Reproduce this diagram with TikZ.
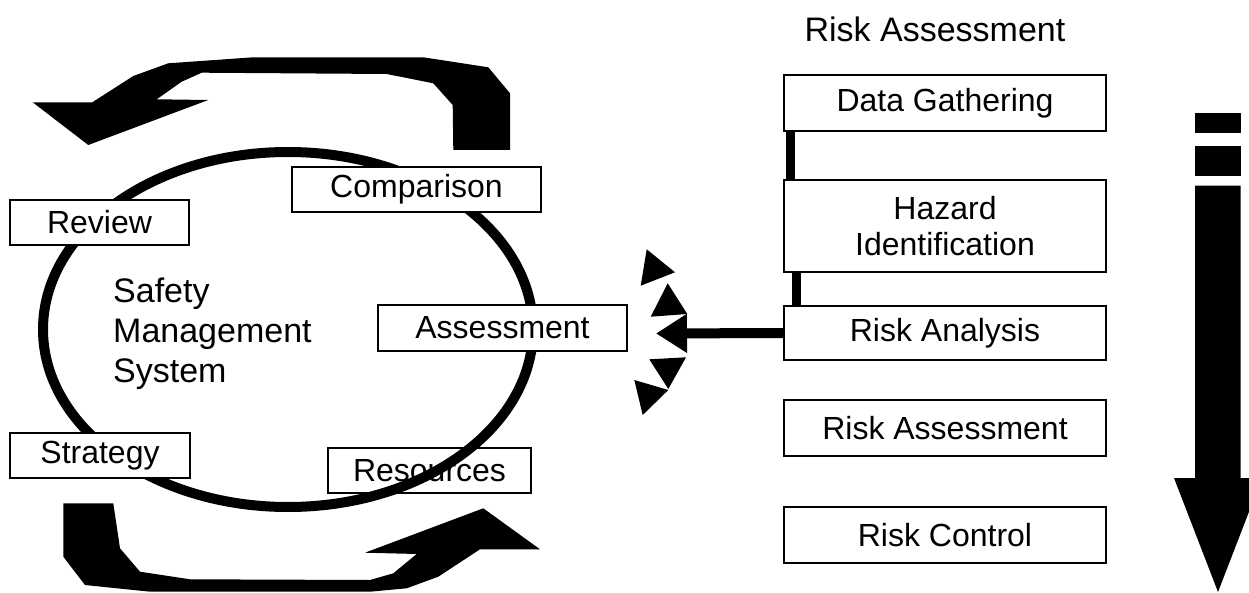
\documentclass[tikz,border=0pt]{standalone}
\usepackage{fontspec}
\setmainfont{Liberation Sans}
\usetikzlibrary{arrows.meta}
\tikzset{
  box/.style={draw, line width=2pt, fill=white, inner sep=0pt, align=center,
    font=\fontsize{32}{36}\selectfont},
  bar/.style={line width=9pt},
  blk/.style={fill=black, draw=none},
}
\begin{document}
\begin{tikzpicture}[x=1pt,y=-1pt]
\useasboundingbox (0,0) rectangle (1249,593);
% top curved arrow
\fill[blk] (32.7,102.3) -- (92.3,102.3) -- (133.3,76) -- (168.3,63.3) -- (253.3,57.3) -- (423.3,57.3) -- (488.3,67.3) -- (510,93.3) -- (510,150) -- (453.3,150) -- (452.7,105) -- (433.3,83.3) -- (386.7,74) -- (201.7,72.7) -- (181.7,81.7) -- (156.7,99.3) -- (208.3,100) -- (88.3,145) -- cycle;
% bottom curved arrow
\fill[blk] (63.3,503.3) -- (113.3,503.3) -- (120,548.3) -- (140,571.7) -- (190,579.3) -- (370,580) -- (393.3,573.3) -- (416.7,554) -- (365,552.7) -- (483.3,508.3) -- (540,549.3) -- (480,549.3) -- (438.3,576.7) -- (406.7,588.3) -- (370,591.7) -- (150,591.7) -- (85,585) -- (63.3,556.7) -- cycle;
% resources box under the ellipse
\node[box, minimum width=203, minimum height=45] (res) at (429.5,470.5) {Resources};
% ellipse
\draw[line width=10pt] (288,329.5) ellipse [x radius=245, y radius=177.5];
% boxes on the ellipse
\node[box, minimum width=179, minimum height=45] (rev) at (99.5,222.5) {Review};
\node[box, minimum width=249, minimum height=45] (cmp) at (416.5,189.5) {Comparison};
\node[box, minimum width=249, minimum height=45.5] (asm) at (502.5,327.8) {Assessment};
\node[box, minimum width=180, minimum height=45] (str) at (100,455.5) {Strategy};
\node[anchor=west, align=left, inner sep=0pt, font=\fontsize{34}{40}\selectfont] (sms) at (113,334) {Safety\\Management\\System};
% right column
\node[inner sep=0pt, font=\fontsize{34}{38}\selectfont] (title) at (935,29) {Risk Assessment};
\node[box, minimum width=322, minimum height=56] (dg) at (945,103) {Data Gathering};
\node[box, minimum width=322, minimum height=92] (hz) at (945,226) {Hazard\\Identification};
\node[box, minimum width=322, minimum height=54] (ra) at (945,333) {Risk Analysis};
\node[box, minimum width=322, minimum height=56] (rass) at (945,428) {Risk Assessment};
\node[box, minimum width=322, minimum height=56] (rc) at (945,535) {Risk Control};
\draw[bar] ([xshift=7.5pt]dg.south west) -- ([xshift=7.5pt]hz.north west);
\draw[bar] ([xshift=13.5pt]hz.south west) -- ([xshift=13.5pt]ra.north west);
% arrow to assessment
\coordinate (tip) at (656,333.5);
\draw[line width=10pt, -{Triangle[length=31pt 0 0, width=37pt 0 0]}] (ra.west) -- (tip);
% small triangles
\fill[blk] (646.7,249.3) -- (675,272.3) -- (640.7,285.7) -- cycle;
\fill[blk] (667.7,283.3) -- (687.3,314) -- (650.7,316.7) -- cycle;
\fill[blk] (649.3,359.3) -- (686,357.3) -- (668.3,389) -- cycle;
\fill[blk] (634.3,380) -- (668.3,390) -- (642.7,415) -- cycle;
% big down arrow
\fill[blk] (1195,112.7) rectangle (1240.7,133.3);
\fill[blk] (1195,146) rectangle (1240.7,176);
\fill[blk] (1195,185.7) -- (1240.7,185.7) -- (1240.7,478) -- (1249,478) -- (1249,511.7) -- (1218,592) -- (1174,478) -- (1195,478) -- cycle;
\end{tikzpicture}
\end{document}
